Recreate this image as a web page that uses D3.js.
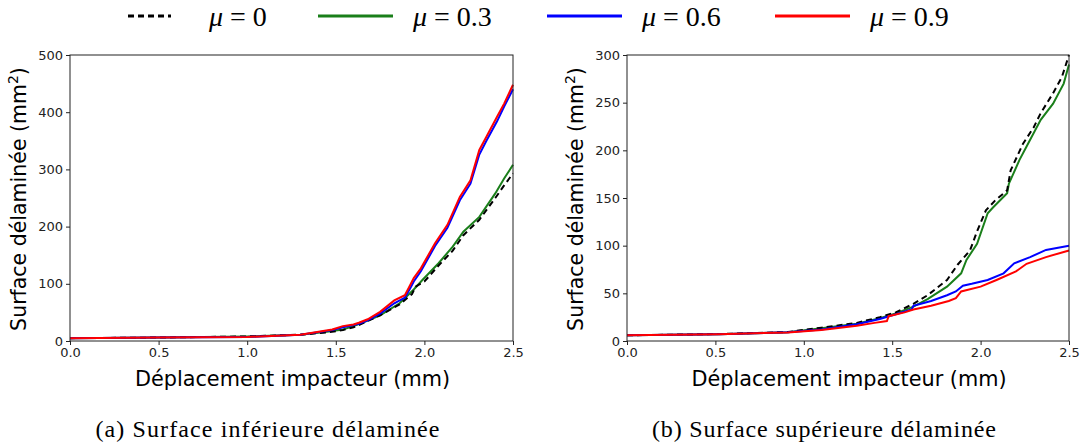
<!DOCTYPE html>
<html><head><meta charset="utf-8">
<script src="https://cdn.jsdelivr.net/npm/d3@7"></script>
<style>body{margin:0;background:#fff}svg{display:block}</style>
</head><body>
<svg id="c" width="1083" height="446"></svg>
<script>
const seriesMu = ["0", "0.3", "0.6", "0.9"];
const colors = ["#000000", "#1a7f1a", "#0000ff", "#ff0000"];
const xTicks = [0.0, 0.5, 1.0, 1.5, 2.0, 2.5];
const yTicksA = [0, 100, 200, 300, 400, 500];
const yTicksB = [0, 50, 100, 150, 200, 250, 300];

// (a) Surface inférieure
const a_x0 = [0,0.5,1.0,1.3,1.45,1.54,1.6,1.66,1.75,1.86,1.93,1.95,2.0,2.08,2.16,2.22,2.31,2.4,2.45,2.5];
const a_y0 = [5,6,8,11,15,19,24,32,45,64,82,95,104,132,158,185,212,250,272,293];
const a_x3 = [0,0.5,1.0,1.3,1.45,1.54,1.6,1.66,1.75,1.86,1.94,1.99,2.08,2.16,2.22,2.31,2.4,2.45,2.5];
const a_y3 = [5,6,8,11,16,20,26,33,45,66,90,107,136,165,191,217,258,284,308];
const a_x6 = [0,0.5,1.0,1.3,1.48,1.54,1.6,1.63,1.68,1.75,1.83,1.89,1.92,1.94,1.98,2.06,2.13,2.2,2.26,2.31,2.35,2.41,2.45,2.5];
const a_y6 = [5,6,7,11,19,24,28,30,36,48,66,76,92,104,122,166,198,246,275,326,350,384,410,440];
const a_x9 = [0,0.5,1.0,1.3,1.48,1.54,1.6,1.63,1.68,1.75,1.83,1.89,1.92,1.94,1.98,2.06,2.13,2.2,2.26,2.31,2.35,2.41,2.45,2.5];
const a_y9 = [5,6,7,11,20,26,29,32,38,51,71,80,98,110,127,171,203,252,281,334,357,392,415,448];

// (b) Surface supérieure
const b_x0 = [0,0.52,0.91,1.1,1.3,1.43,1.52,1.62,1.7,1.81,1.87,1.94,1.98,2.03,2.08,2.15,2.17,2.24,2.3,2.34,2.41,2.46,2.5];
const b_y0 = [6,7.3,9.4,14,19,25,30,39,48,64,80,95,115,137,147,158,179,207,224,239,260,277,300];
const b_x3 = [0,0.52,0.91,1.1,1.3,1.43,1.52,1.62,1.7,1.81,1.89,1.92,1.98,2.04,2.07,2.15,2.16,2.22,2.26,2.34,2.41,2.47,2.5];
const b_y3 = [6,7.2,9.2,13.5,18,24,29,36,44,57,71,85,102,134,140,155,165,190,204,232,249,270,290];
const b_x6 = [0,0.52,0.91,1.1,1.3,1.43,1.52,1.61,1.62,1.72,1.81,1.86,1.9,1.95,2.04,2.13,2.19,2.28,2.37,2.5];
const b_y6 = [6,7.2,9.2,12,17.5,23,28,33,37,42,48,52,58,60,64,71,81.5,88,95.5,100];
const b_x9 = [0,0.52,0.91,1.1,1.3,1.4,1.47,1.48,1.57,1.62,1.72,1.82,1.86,1.89,2.0,2.09,2.2,2.26,2.37,2.5];
const b_y9 = [6,7.2,9,11.5,16,19,21,26,30,33,37,42,45,52,57,64,73,81,88,95];

const svg = d3.select("#c");
const sans = "'DejaVu Sans', sans-serif";
const serif = "'Liberation Serif', 'DejaVu Serif', serif";

function panel(left, right, yMax, yTicks, data, caption) {
  const top = 55, bottom = 341;
  const x = d3.scaleLinear().domain([0, 2.5]).range([left, right]);
  const y = d3.scaleLinear().domain([0, yMax]).range([bottom, top]);
  const g = svg.append("g");
  const line = d3.line().x(d => x(d[0])).y(d => y(d[1]));
  const order = [1, 0, 2, 3];
  order.forEach(i => {
    const [xs, ys] = data[i];
    g.append("path").datum(xs.map((v, k) => [v, ys[k]]))
      .attr("d", line).attr("fill", "none")
      .attr("stroke", colors[i]).attr("stroke-width", 2)
      .attr("stroke-dasharray", i === 0 ? "6,4" : null);
  });
  g.append("rect").attr("x", left).attr("y", top).attr("width", right - left).attr("height", bottom - top)
    .attr("fill", "none").attr("stroke", "#222").attr("stroke-width", 1);
  const xa = g.append("g").attr("transform", `translate(0,${bottom})`)
    .call(d3.axisBottom(x).tickValues(xTicks).tickFormat(d3.format(".1f")).tickSize(4).tickPadding(3));
  const ya = g.append("g").attr("transform", `translate(${left},0)`)
    .call(d3.axisLeft(y).tickValues(yTicks).tickFormat(d3.format("d")).tickSize(4).tickPadding(3));
  [xa, ya].forEach(a => {
    a.select(".domain").remove();
    a.selectAll("text").attr("font-family", sans).attr("font-size", 13).attr("fill", "#222");
    a.selectAll("line").attr("stroke", "#222");
  });
  g.append("text").attr("x", (left + right) / 2 + 1).attr("y", 386).attr("text-anchor", "middle")
    .attr("font-family", sans).attr("font-size", 20.8).attr("fill", "#000")
    .text("Déplacement impacteur (mm)");
  const yl = g.append("text").attr("transform", `translate(${left - 44},${(top + bottom) / 2 + 1}) rotate(-90)`)
    .attr("text-anchor", "middle").attr("font-family", sans).attr("font-size", 20.5).attr("fill", "#000");
  yl.append("tspan").text("Surface délaminée (mm");
  yl.append("tspan").attr("dy", -8).attr("font-size", 14).text("2");
  yl.append("tspan").attr("dy", 8).text(")");
  g.append("text").attr("x", (left + right) / 2 - 24).attr("y", 437).attr("text-anchor", "middle")
    .attr("font-family", serif).attr("font-size", 24).attr("fill", "#000")
    .attr("textLength", 344).attr("lengthAdjust", "spacing").text(caption);
}

panel(70, 513, 500, yTicksA,
  [[a_x0, a_y0], [a_x3, a_y3], [a_x6, a_y6], [a_x9, a_y9]], "(a) Surface inférieure délaminée");
panel(627, 1069, 300, yTicksB,
  [[b_x0, b_y0], [b_x3, b_y3], [b_x6, b_y6], [b_x9, b_y9]], "(b) Surface supérieure délaminée");

const legX = [128, 318, 547, 775];
const leg = svg.append("g");
seriesMu.forEach((m, i) => {
  const lx = legX[i];
  leg.append("line").attr("x1", lx).attr("x2", lx + (i === 0 ? 43 : 75)).attr("y1", 16).attr("y2", 16)
    .attr("stroke", colors[i]).attr("stroke-width", 3)
    .attr("stroke-dasharray", i === 0 ? "6,4" : null);
  const t = leg.append("text").attr("x", i === 0 ? 209 : lx + 95).attr("y", 26)
    .attr("font-family", serif).attr("font-size", 28).attr("fill", "#000");
  t.append("tspan").attr("font-style", "italic").text("μ");
  t.append("tspan").text(" = " + m);
});
</script>
</body></html>
